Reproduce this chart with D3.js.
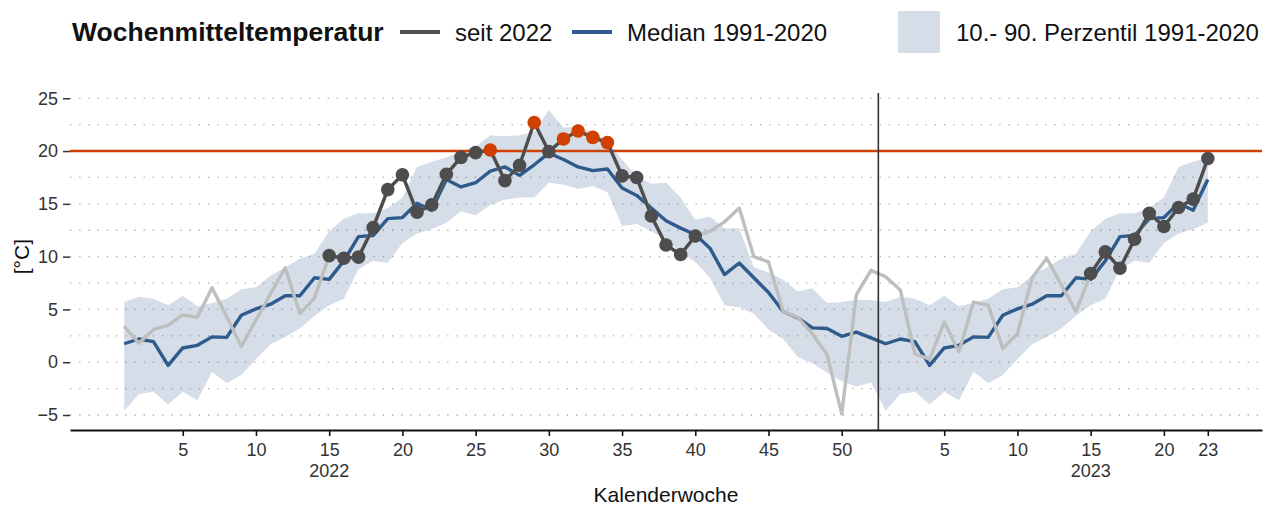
<!DOCTYPE html>
<html><head><meta charset="utf-8">
<script src="https://cdn.jsdelivr.net/npm/d3@7"></script>
<style>
body{margin:0;background:#fff}
svg{display:block;font-family:"Liberation Sans",Arial,sans-serif}
</style>
</head><body>
<svg id="c" width="1278" height="505"></svg>
<script>
// ---- data ----
const years = [2022, 2023];
const weeksPerYear = 52;
// weekly mean temperature since 2022 (°C)
const obs2022 = [3.4, 1.8, 3.1, 3.5, 4.5, 4.25, 7.05, 4.3, 1.5, 4.0, 6.5, 8.95, 4.6, 6.1, 10.1, 9.85, 9.95, 12.75, 16.35, 17.75, 14.2, 14.9, 17.8, 19.4, 19.85, 20.1, 17.2, 18.65, 22.7, 19.95, 21.15, 21.9, 21.3, 20.8, 17.65, 17.5, 13.85, 11.1, 10.2, 11.95, 12.4, 13.3, 14.6, 10.0, 9.5, 4.8, 4.25, 2.7, 0.7, -4.9, 6.4, 8.7];
const obs2023 = [8.1, 6.85, 0.8, 0.3, 3.8, 1.0, 5.7, 5.4, 1.3, 2.7, 8.0, 9.85, 7.3, 4.8, 8.4, 10.45, 8.9, 11.65, 14.1, 12.85, 14.65, 15.45, 19.3];
// climatology 1991-2020 by calendar week
const median = [1.75, 2.2, 1.95, -0.3, 1.35, 1.6, 2.4, 2.35, 4.45, 5.05, 5.5, 6.3, 6.3, 8.0, 7.85, 9.6, 11.9, 12.0, 13.6, 13.7, 15.05, 14.4, 17.3, 16.6, 17.0, 18.1, 18.5, 17.7, 18.7, 19.8, 19.2, 18.5, 18.15, 18.3, 16.5, 15.8, 14.6, 13.4, 12.7, 12.1, 10.8, 8.3, 9.4, 8.0, 6.6, 4.8, 4.2, 3.25, 3.2, 2.45, 2.85, 2.3];
const p10 = [-4.6, -3.0, -2.8, -4.0, -2.8, -3.6, -0.9, -2.0, -1.2, 0.3, 1.7, 2.4, 3.2, 4.4, 5.4, 6.0, 8.8, 9.6, 9.4, 11.3, 12.2, 12.6, 13.2, 14.3, 13.9, 14.9, 15.4, 15.6, 15.6, 17.0, 16.8, 16.4, 16.7, 16.1, 12.9, 13.1, 12.4, 11.6, 10.4, 9.5, 8.0, 5.4, 5.2, 4.6, 3.1, 2.2, 0.5, -0.1, -1.0, -1.8, -2.3, -1.9];
const p90 = [5.7, 6.2, 6.0, 5.4, 6.3, 5.3, 5.6, 6.0, 6.9, 7.1, 8.2, 9.0, 9.8, 10.3, 12.4, 13.6, 14.1, 14.1, 14.6, 15.6, 18.5, 19.0, 19.4, 20.0, 20.4, 21.5, 21.4, 21.5, 21.8, 23.9, 22.2, 22.3, 21.8, 20.9, 19.2, 17.6, 16.9, 17.0, 15.6, 13.5, 13.8, 12.7, 12.7, 9.0, 8.5, 7.8, 6.7, 7.0, 5.6, 5.7, 5.9, 5.9];
const threshold = 20;
const summerWeeks = [15, 40];
const yTicks = [-5, 0, 5, 10, 15, 20, 25];
const yGrid = [-5, -2.5, 0, 2.5, 5, 7.5, 10, 12.5, 15, 17.5, 20, 22.5, 25];
const xTicks2022 = [5, 10, 15, 20, 25, 30, 35, 40, 45, 50];
const xTicks2023 = [5, 10, 15, 20, 23];
const yearLabelWeek = 15;
const legendLabels = ["seit 2022", "Median 1991-2020", "10.- 90. Perzentil 1991-2020"];

// ---- build rows ----
const rows = [];
obs2022.forEach((v, i) => rows.push({idx: i + 1, week: i + 1, year: 2022, v}));
obs2023.forEach((v, i) => rows.push({idx: weeksPerYear + i + 1, week: i + 1, year: 2023, v}));
rows.forEach(r => { r.med = median[r.week - 1]; r.lo = p10[r.week - 1]; r.hi = p90[r.week - 1];
  r.summer = r.week >= summerWeeks[0] && r.week <= summerWeeks[1]; });

const colDark = "#4d4d4d", colGray = "#bebebe", colBlue = "#2e5a8c", colRed = "#d04000";

const svg = d3.select("#c");
const x = d3.scaleLinear().domain([-2.7, 78.7]).range([70, 1262]);
const y = d3.scaleLinear().domain([-6.42, 25.5]).range([430, 93]);
const [xl, xr] = x.range();

// grid
svg.append("g").selectAll("line").data(yGrid).join("line")
  .attr("x1", xl).attr("x2", xr).attr("y1", d => y(d)).attr("y2", d => y(d))
  .attr("stroke", "#ababab").attr("stroke-width", 1.3).attr("stroke-dasharray", "1.3,7.9");

// ribbon
svg.append("path").datum(rows)
  .attr("d", d3.area().x(d => x(d.idx)).y0(d => y(d.lo)).y1(d => y(d.hi)))
  .attr("fill", colBlue).attr("fill-opacity", 0.2);

// threshold
svg.append("line").attr("x1", xl).attr("x2", xr).attr("y1", y(threshold)).attr("y2", y(threshold))
  .attr("stroke", colRed).attr("stroke-width", 2.6);

// median
svg.append("path").datum(rows)
  .attr("d", d3.line().x(d => x(d.idx)).y(d => y(d.med)))
  .attr("fill", "none").attr("stroke", colBlue).attr("stroke-width", 3.4).attr("stroke-linejoin", "round");

// all observations (grey)
svg.append("path").datum(rows)
  .attr("d", d3.line().x(d => x(d.idx)).y(d => y(d.v)))
  .attr("fill", "none").attr("stroke", colGray).attr("stroke-width", 3.4).attr("stroke-linejoin", "round");

// summer segments (dark)
svg.append("path").datum(rows)
  .attr("d", d3.line().defined(d => d.summer).x(d => x(d.idx)).y(d => y(d.v)))
  .attr("fill", "none").attr("stroke", colDark).attr("stroke-width", 3.4).attr("stroke-linejoin", "round");

svg.append("g").selectAll("circle").data(rows.filter(d => d.summer)).join("circle")
  .attr("cx", d => x(d.idx)).attr("cy", d => y(d.v)).attr("r", 6.8)
  .attr("fill", d => d.v > threshold ? colRed : colDark);

// year separator
svg.append("line").attr("x1", x(weeksPerYear + 0.5)).attr("x2", x(weeksPerYear + 0.5))
  .attr("y1", y.range()[1]).attr("y2", y.range()[0])
  .attr("stroke", "#333").attr("stroke-width", 1.6);

// y axis
const ya = svg.append("g").attr("transform", `translate(${xl},0)`)
  .call(d3.axisLeft(y).tickValues(yTicks).tickSize(7).tickPadding(5));
ya.select(".domain").remove();
ya.selectAll("line").attr("stroke", "#333").attr("stroke-width", 1.5);
ya.selectAll("text").attr("font-size", 18).attr("fill", "#333").attr("font-family", "Liberation Sans, Arial, sans-serif");

// x axis
const xTickIdx = xTicks2022.concat(xTicks2023.map(w => w + weeksPerYear));
const xa = svg.append("g").attr("transform", `translate(0,${y.range()[0]})`)
  .call(d3.axisBottom(x).tickValues(xTickIdx).tickSize(6).tickSizeOuter(0).tickPadding(7)
    .tickFormat(d => d > weeksPerYear ? d - weeksPerYear : d));
xa.select(".domain").attr("stroke", "#111").attr("stroke-width", 2);
xa.selectAll(".tick line").attr("stroke", "#111").attr("stroke-width", 1.6);
xa.selectAll("text").attr("font-size", 18).attr("fill", "#333").attr("font-family", "Liberation Sans, Arial, sans-serif");

// year labels
svg.append("g").selectAll("text").data(years).join("text")
  .attr("x", (d, i) => x(yearLabelWeek + i * weeksPerYear)).attr("y", 477)
  .attr("text-anchor", "middle").attr("font-size", 18).attr("fill", "#333").text(d => d);

// axis titles
svg.append("text").attr("x", (xl + xr) / 2).attr("y", 502).attr("text-anchor", "middle")
  .attr("font-size", 21).attr("fill", "#111").text("Kalenderwoche");
svg.append("text").attr("transform", `translate(29,${(y(25) + y(-5)) / 2}) rotate(-90)`)
  .attr("text-anchor", "middle").attr("font-size", 21).attr("fill", "#111").text("[°C]");

// legend
const lg = svg.append("g");
lg.append("text").attr("x", 72).attr("y", 41).attr("font-size", 26.5).attr("font-weight", "bold")
  .attr("fill", "#111").text("Wochenmitteltemperatur");
lg.append("line").attr("x1", 400).attr("x2", 440).attr("y1", 32).attr("y2", 32)
  .attr("stroke", colDark).attr("stroke-width", 4);
lg.append("text").attr("x", 455).attr("y", 40.5).attr("font-size", 24).attr("fill", "#111").text(legendLabels[0]);
lg.append("line").attr("x1", 572).attr("x2", 612).attr("y1", 32).attr("y2", 32)
  .attr("stroke", colBlue).attr("stroke-width", 4);
lg.append("text").attr("x", 627).attr("y", 40.5).attr("font-size", 24).attr("fill", "#111").text(legendLabels[1]);
lg.append("rect").attr("x", 898).attr("y", 11).attr("width", 42).attr("height", 42)
  .attr("fill", colBlue).attr("fill-opacity", 0.2);
lg.append("text").attr("x", 956).attr("y", 40.5).attr("font-size", 24).attr("fill", "#111").text(legendLabels[2]);
</script>
</body></html>
